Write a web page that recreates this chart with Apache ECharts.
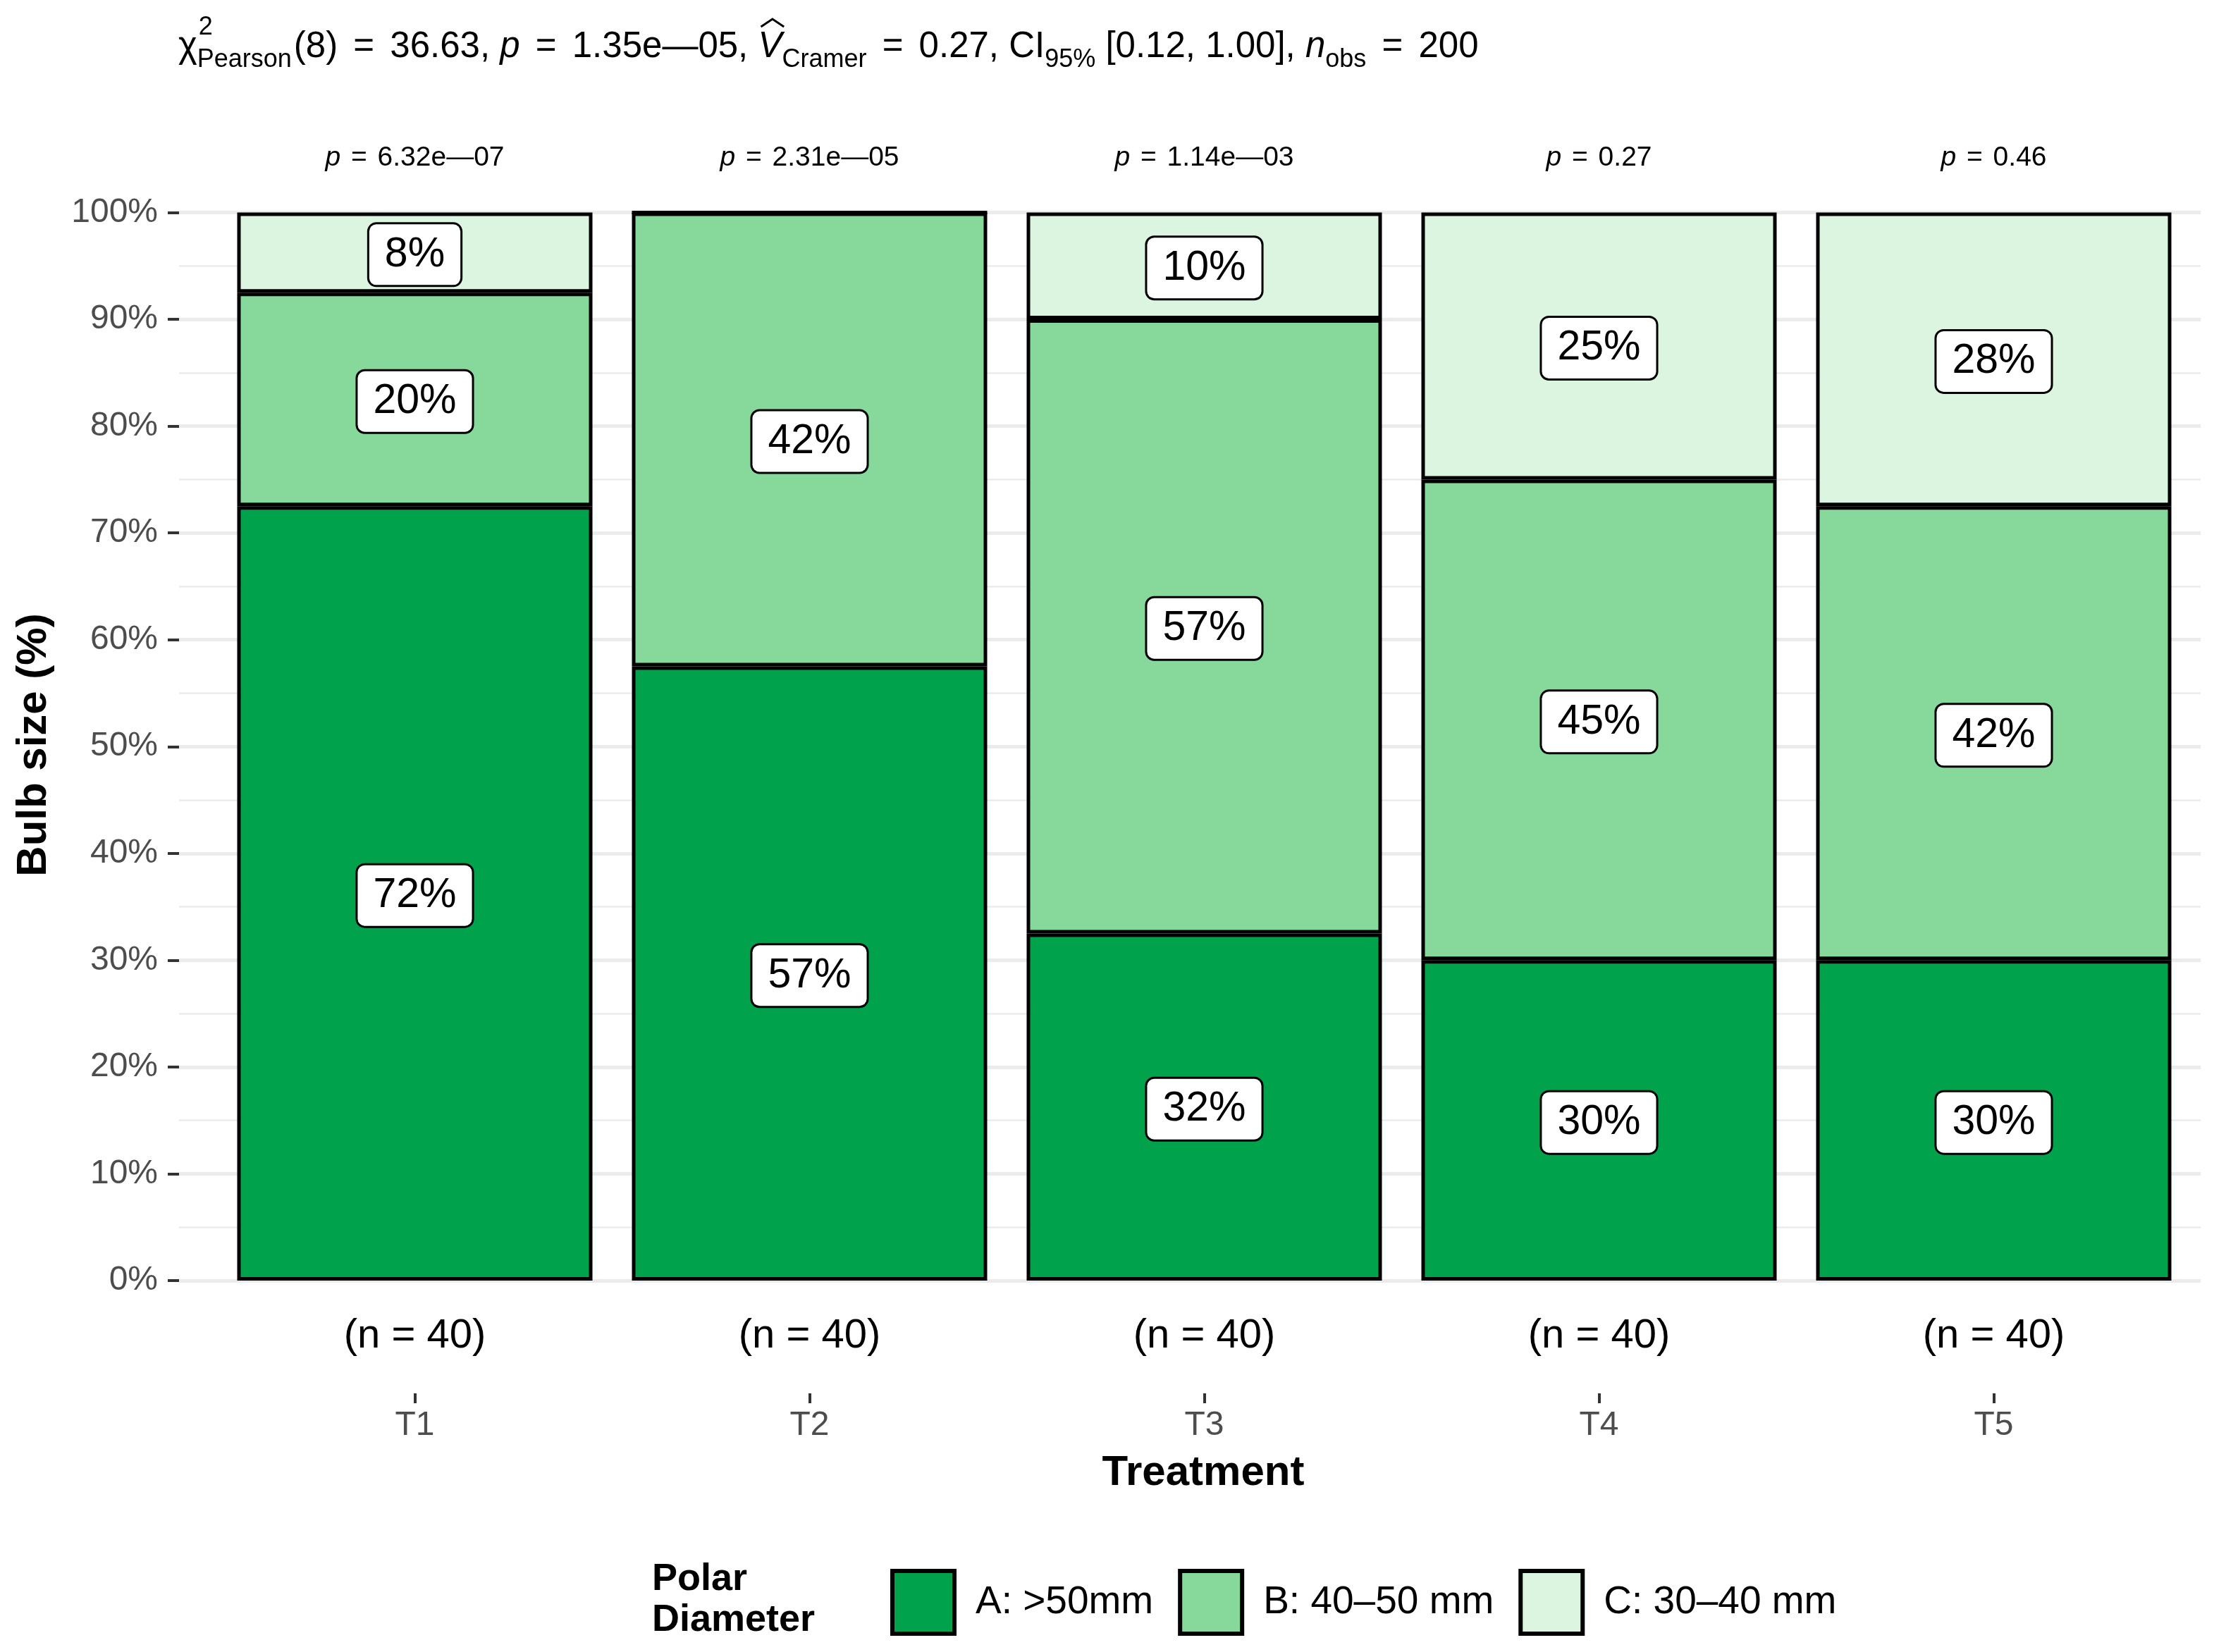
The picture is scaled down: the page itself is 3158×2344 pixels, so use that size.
<!DOCTYPE html>
<html><head><meta charset="utf-8">
<script src="https://cdn.jsdelivr.net/npm/echarts@6/dist/echarts.min.js"></script>
<style>html,body{margin:0;padding:0;background:#fff}#c{width:3158px;height:2344px}</style>
</head><body><div id="c"></div>
<script>
// ---------- data ----------
const categories = ['T1', 'T2', 'T3', 'T4', 'T5'];
const nLabels = ['(n = 40)', '(n = 40)', '(n = 40)', '(n = 40)', '(n = 40)'];
const pValues = ['6.32e\u201407', '2.31e\u201405', '1.14e\u201403', '0.27', '0.46'];
const seriesNames = ['A: >50mm', 'B: 40\u201350 mm', 'C: 30\u201340 mm'];
const valuesA = [72.5, 57.5, 32.5, 30, 30];
const valuesB = [20, 42.5, 57.5, 45, 42.5];
const valuesC = [7.5, 0, 10, 25, 27.5];
const labelsA = ['72%', '57%', '32%', '30%', '30%'];
const labelsB = ['20%', '42%', '57%', '45%', '42%'];
const labelsC = ['8%', '', '10%', '25%', '28%'];
const yTickValues = [0, 10, 20, 30, 40, 50, 60, 70, 80, 90, 100];
const yTickLabels = ['0%', '10%', '20%', '30%', '40%', '50%', '60%', '70%', '80%', '90%', '100%'];
const colors = ['#00A24C', '#86D99A', '#DCF5E0'];

// ---------- helpers ----------
const FF = '"Liberation Sans", Arial, Helvetica, sans-serif';
const ctx = document.createElement('canvas').getContext('2d');
function fontStr(size, italic, bold) {
  return (italic ? 'italic ' : '') + (bold ? 'bold ' : '') + size + 'px ' + FF;
}
function measure(text, size, italic, bold) {
  ctx.font = fontStr(size, italic, bold);
  return ctx.measureText(text).width;
}
function txt(text, x, y, size, opts) {
  opts = opts || {};
  return {
    type: 'text', x: x, y: y, rotation: opts.rotation || 0, silent: true,
    style: {
      text: text, font: fontStr(size, opts.italic, opts.bold), fill: opts.fill || '#000',
      textAlign: opts.align || 'left', align: opts.align || 'left',
      textVerticalAlign: 'middle', verticalAlign: 'middle'
    }
  };
}

// ---------- title (plotmath-like) ----------
const M = 51, S = 36, BASE = 85, MID = 0.35, EQGAP = 8;
const titleEls = [];
let cx = 253;
function main(t, italic) {
  titleEls.push(txt(t, cx, BASE - MID * M, M, { italic: italic }));
  const w = measure(t, M, italic);
  const x0 = cx; cx += w; return [x0, w];
}
function sub(t) {
  titleEls.push(txt(t, cx, BASE + 13 - MID * S, S));
  cx += measure(t, S);
}
function eq() { cx += EQGAP; main(' = '); cx += EQGAP; }
main('\u03C7');
titleEls.push(txt('2', cx + 2, BASE - 33 - MID * S, S));
sub('Pearson');
cx += 3;
main('(8)'); eq(); main('36.63, ');
main('p', true);
eq(); main('1.35e\u201405, ');
const vpos = main('V', true);
titleEls.push({
  type: 'polyline', silent: true,
  shape: { points: [[vpos[0] + vpos[1] * 0.12, 38], [vpos[0] + vpos[1] * 0.6, 27], [vpos[0] + vpos[1] * 1.08, 38]] },
  style: { stroke: '#000', lineWidth: 3, fill: null }
});
sub('Cramer');
eq(); main('0.27, CI');
sub('95%');
main(' [0.12, 1.00], ');
main('n', true);
sub('obs');
eq(); main('200');

// ---------- build series ----------
function mkData(vals, labs) {
  return vals.map((v, i) => ({ value: v, label: { show: v > 0, formatter: labs[i] } }));
}
const valueSets = [valuesA, valuesB, valuesC];
const labelSets = [labelsA, labelsB, labelsC];
const series = seriesNames.map((name, k) => ({
  name: name, type: 'bar', stack: 'total', xAxisIndex: 0, yAxisIndex: 0,
  barWidth: '90%',
  itemStyle: { color: colors[k], borderColor: '#000', borderWidth: 5 },
  label: {
    show: true, position: 'inside', fontSize: 59, color: '#000', fontFamily: FF,
    backgroundColor: '#fff', borderColor: '#000', borderWidth: 3, borderRadius: 10,
    padding: [14, 22, 13, 22], offset: [0, 3]
  },
  emphasis: { disabled: true },
  data: mkData(valueSets[k], labelSets[k])
}));

const chart = echarts.init(document.getElementById('c'), null, { renderer: 'canvas' });
chart.setOption({
  animation: false,
  backgroundColor: '#fff',
  textStyle: { fontFamily: FF },
  grid: [
    { left: 308.5, right: 49.5, top: 301.5, bottom: 527 },
    { left: 308.5, right: 49.5, top: 301.5, bottom: 367 },
    { left: 254, right: 36, top: 301.5, bottom: 527 }
  ],
  xAxis: [
    {
      type: 'category', gridIndex: 0, data: categories, position: 'bottom',
      axisLine: { show: false }, axisTick: { show: false },
      axisLabel: { formatter: (v, i) => nLabels[i], fontSize: 58, color: '#000', margin: 50, fontFamily: FF }
    },
    {
      type: 'category', gridIndex: 1, data: categories, position: 'bottom',
      axisLine: { show: false },
      axisTick: { show: true, alignWithLabel: true, length: 14, lineStyle: { color: '#333', width: 4 } },
      axisLabel: { fontSize: 48, color: '#4D4D4D', margin: 22, fontFamily: FF }
    },
    { type: 'value', gridIndex: 2, min: 0, max: 1, show: false },
    {
      type: 'category', gridIndex: 0, data: categories, position: 'top',
      axisLine: { show: false }, axisTick: { show: false },
      axisLabel: {
        margin: 58, formatter: (v, i) => '{i|p}{e| = }{r|' + pValues[i] + '}',
        rich: {
          i: { fontSize: 39, fontStyle: 'italic', color: '#000', fontFamily: FF },
          e: { fontSize: 39, color: '#000', fontFamily: FF, padding: [0, 4, 0, 4] },
          r: { fontSize: 39, color: '#000', fontFamily: FF }
        }
      }
    }
  ],
  yAxis: [
    { type: 'value', gridIndex: 0, min: 0, max: 100, show: false },
    { type: 'value', gridIndex: 1, min: 0, max: 100, show: false },
    {
      type: 'value', gridIndex: 2, min: 0, max: 100, interval: 10,
      axisLine: { show: false },
      axisTick: { show: true, length: 16, lineStyle: { color: '#333', width: 4 } },
      axisLabel: {
        formatter: v => yTickLabels[yTickValues.indexOf(v)], fontSize: 48, color: '#4D4D4D', margin: 30, fontFamily: FF
      },
      splitLine: { show: true, lineStyle: { color: '#EBEBEB', width: 5 } },
      minorTick: { show: false, splitNumber: 2 },
      minorSplitLine: { show: true, lineStyle: { color: '#EBEBEB', width: 2.5 } }
    }
  ],
  legend: {
    left: 1258, top: 2221, orient: 'horizontal', icon: 'rect',
    itemWidth: 88, itemHeight: 89, itemGap: 35,
    itemStyle: { borderColor: '#000', borderWidth: 6 },
    textStyle: { fontSize: 55, color: '#000', fontFamily: FF, padding: [0, 0, 0, 25] },
    selectedMode: false,
    data: seriesNames
  },
  graphic: [
    ...titleEls,
    txt('Treatment', 1707, 2090, 60, { bold: true, align: 'center' }),
    txt('Bulb size (%)', 48, 1057, 60, { bold: true, align: 'center', rotation: Math.PI / 2 }),
    {
      type: 'text', x: 925, y: 2212, silent: true,
      style: { text: 'Polar\nDiameter', font: fontStr(54, false, true), fill: '#000', lineHeight: 58,
        textAlign: 'left', align: 'left', textVerticalAlign: 'top', verticalAlign: 'top' }
    }
  ],
  series: series
});
</script>
</body></html>
